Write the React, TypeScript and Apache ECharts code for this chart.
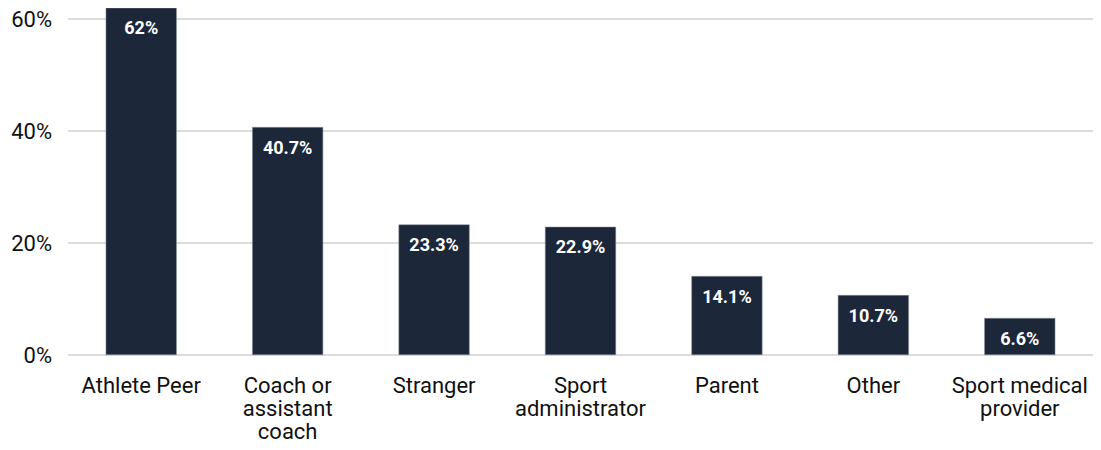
import React, { useEffect, useRef } from "react";
import * as echarts from "echarts";

const categories = [
  "Athlete Peer",
  "Coach or\nassistant\ncoach",
  "Stranger",
  "Sport\nadministrator",
  "Parent",
  "Other",
  "Sport medical\nprovider",
];
const values = [62, 40.7, 23.3, 22.9, 14.1, 10.7, 6.6];
const yTicks = [0, 20, 40, 60];

const FONT = "Roboto, 'Noto Sans', sans-serif";

export default function App() {
  const ref = useRef<HTMLDivElement>(null);
  useEffect(() => {
    if (!ref.current) return;
    const chart = echarts.init(ref.current, undefined, { renderer: "svg" });
    chart.setOption({
      animation: false,
      grid: { left: 68, right: 8, top: 19, bottom: 95, containLabel: false },
      xAxis: {
        type: "category",
        data: categories,
        axisLine: { show: false },
        axisTick: { show: false },
        axisLabel: {
          color: "#111",
          fontSize: 22,
          lineHeight: 23,
          fontFamily: FONT,
          margin: 19,
          interval: 0,
        },
      },
      yAxis: {
        type: "value",
        min: yTicks[0],
        max: yTicks[yTicks.length - 1],
        interval: 20,
        axisLine: { show: false },
        axisTick: { show: false },
        splitLine: { lineStyle: { color: "#dcdcdc", width: 2 } },
        axisLabel: {
          formatter: "{value}%",
          color: "#111",
          fontSize: 22,
          fontFamily: FONT,
          margin: 16,
        },
      },
      series: [
        {
          type: "bar",
          data: values,
          clip: false,
          barWidth: "48.5%",
          itemStyle: { color: "#1c2739", borderColor: "#8a93a3", borderWidth: 0.5 },
          label: {
            show: true,
            position: "insideTop",
            distance: 11,
            formatter: "{c}%",
            color: "#fff",
            fontWeight: "bold",
            fontSize: 18,
            fontFamily: FONT,
          },
        },
      ],
    });
    return () => chart.dispose();
  }, []);
  return <div ref={ref} style={{ width: 1101, height: 450, margin: -8 }} />;
}
